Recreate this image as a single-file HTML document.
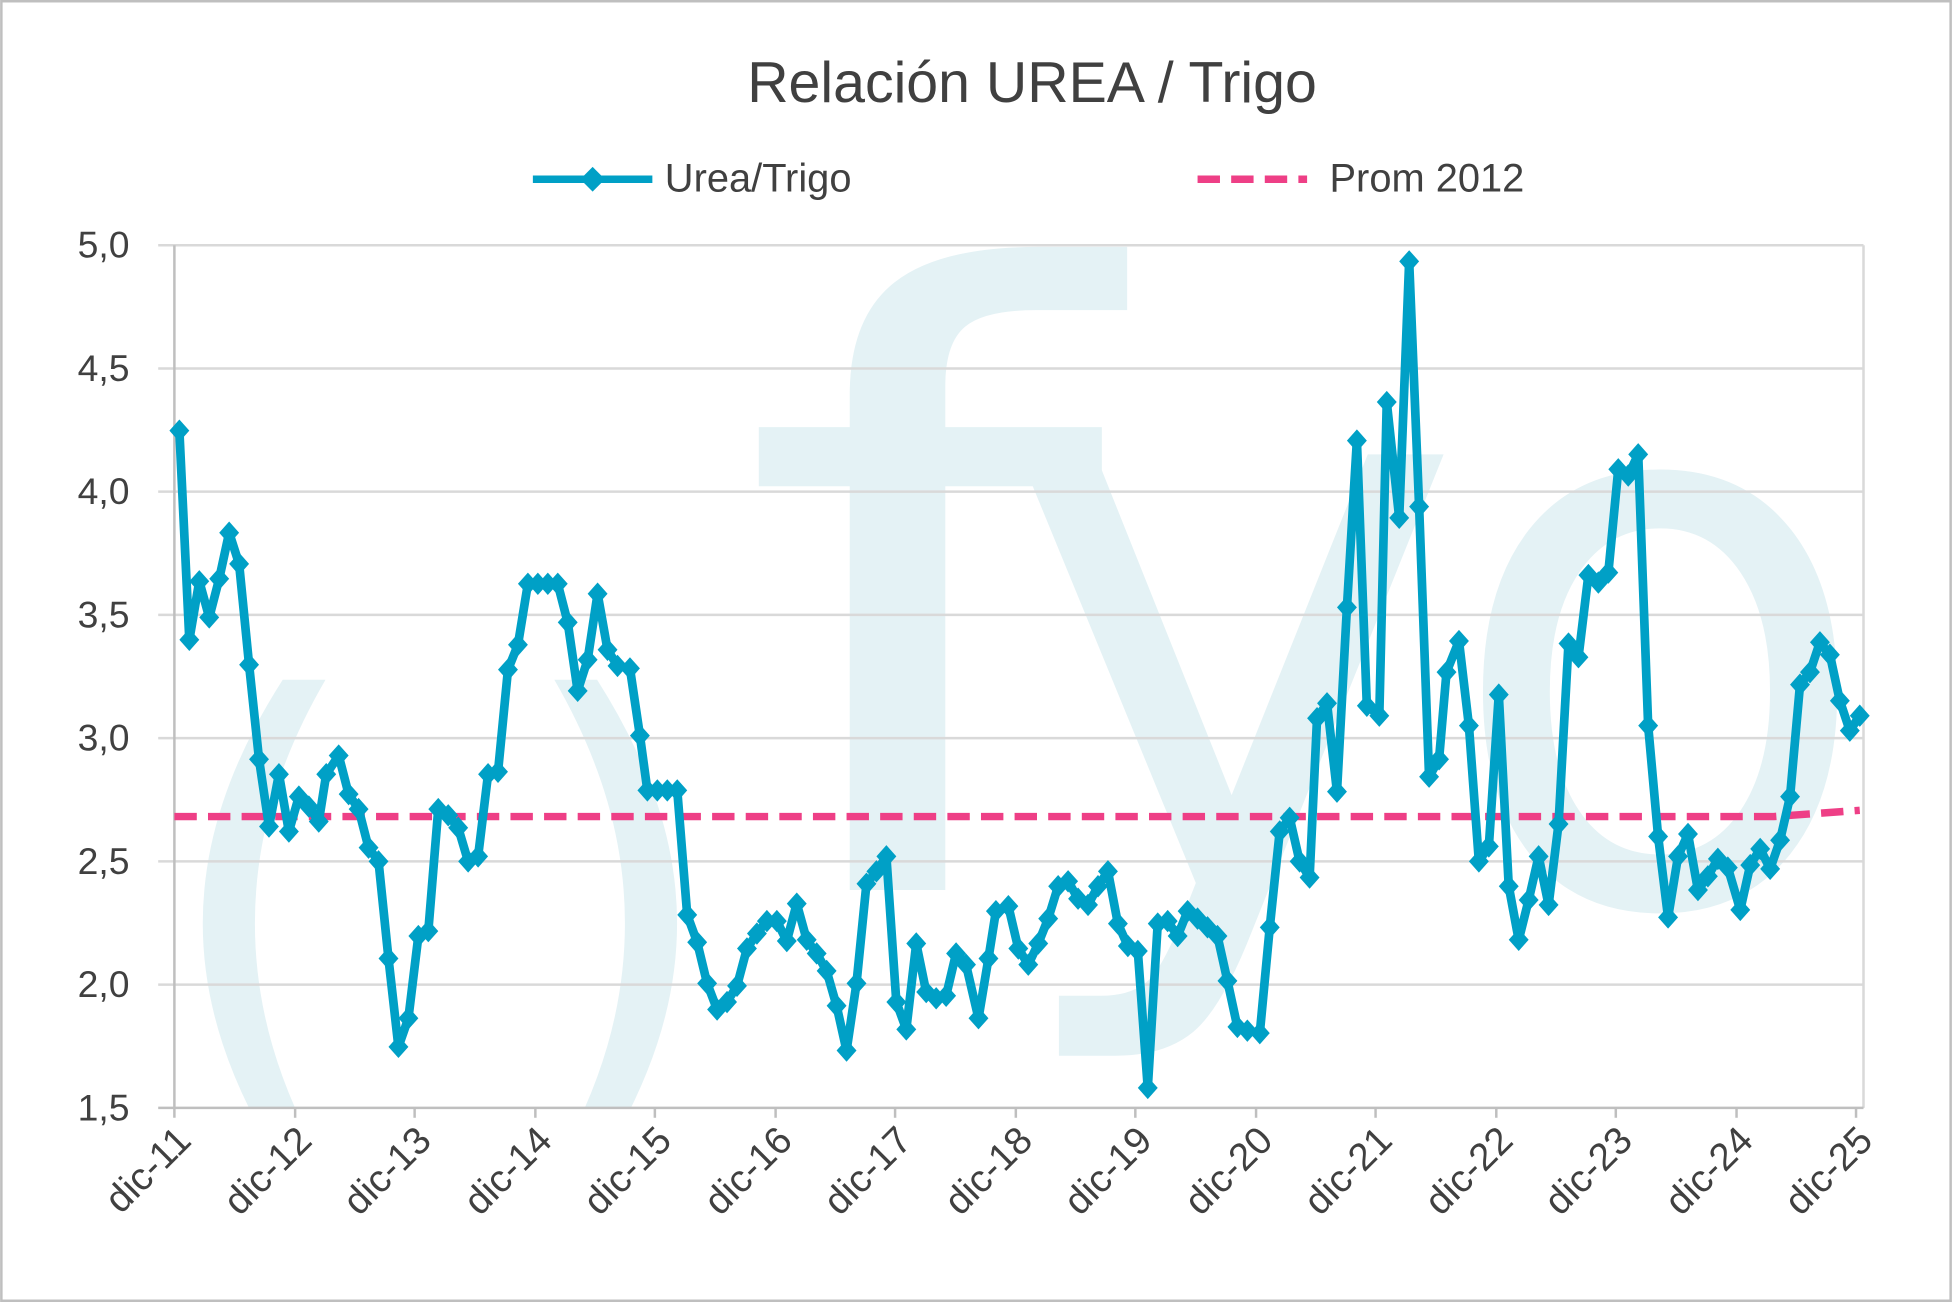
<!DOCTYPE html>
<html><head><meta charset="utf-8"><style>
html,body{margin:0;padding:0;background:#fff;}
svg{display:block;}
</style></head><body>
<svg width="1952" height="1302" viewBox="0 0 1568 1046" xmlns="http://www.w3.org/2000/svg" font-family="'Liberation Sans', 'DejaVu Sans', sans-serif">
<defs><clipPath id="c"><rect x="140" y="150" width="1357" height="740"/></clipPath></defs>
<rect x="1" y="1" width="1566" height="1044" fill="#fff" stroke="#bfbfbf" stroke-width="2"/>
<g fill="#e4f2f5" clip-path="url(#c)" font-family="'DejaVu Sans', sans-serif">
<text x="125" y="880" font-size="440">(</text>
<text x="410" y="880" font-size="440">)</text>
<text transform="translate(590,715) scale(1.25,1)" font-size="680">f</text>
<text x="800" y="715" font-size="640">y</text>
<text transform="translate(1160,725) scale(1.05,1.15)" font-size="540">o</text>
</g>
<text x="829" y="82" font-size="46" fill="#404040" text-anchor="middle">Relación UREA / Trigo</text>
<line x1="428" y1="144" x2="524" y2="144" stroke="#00a0c6" stroke-width="6"/>
<rect x="469" y="137" width="14" height="14" fill="#00a0c6" transform="rotate(45 476 144)"/>
<text x="534" y="154" font-size="32" fill="#404040">Urea/Trigo</text>
<line x1="962" y1="144" x2="1050" y2="144" stroke="#ee3f86" stroke-width="6" stroke-dasharray="18,9"/>
<text x="1068" y="154" font-size="32" fill="#404040">Prom 2012</text>
<g stroke="#d9d9d9" stroke-width="2">
<line x1="127" y1="197" x2="1497" y2="197"/><line x1="127" y1="296" x2="1497" y2="296"/>
<line x1="127" y1="395" x2="1497" y2="395"/><line x1="127" y1="494" x2="1497" y2="494"/>
<line x1="127" y1="593" x2="1497" y2="593"/><line x1="127" y1="692" x2="1497" y2="692"/>
<line x1="127" y1="791" x2="1497" y2="791"/>
<line x1="1497" y1="197" x2="1497" y2="890"/>
</g>
<g stroke="#bfbfbf" stroke-width="2">
<line x1="140" y1="197" x2="140" y2="898"/>
<line x1="127" y1="890" x2="1497" y2="890"/>
<line x1="237" y1="890" x2="237" y2="898"/><line x1="333" y1="890" x2="333" y2="898"/>
<line x1="430" y1="890" x2="430" y2="898"/><line x1="526" y1="890" x2="526" y2="898"/>
<line x1="623" y1="890" x2="623" y2="898"/><line x1="719" y1="890" x2="719" y2="898"/>
<line x1="816" y1="890" x2="816" y2="898"/><line x1="912" y1="890" x2="912" y2="898"/>
<line x1="1009" y1="890" x2="1009" y2="898"/><line x1="1105" y1="890" x2="1105" y2="898"/>
<line x1="1202" y1="890" x2="1202" y2="898"/><line x1="1298" y1="890" x2="1298" y2="898"/>
<line x1="1395" y1="890" x2="1395" y2="898"/><line x1="1491" y1="890" x2="1491" y2="898"/>
</g>
<g font-size="30" fill="#404040" text-anchor="end">
<text x="104" y="207">5,0</text><text x="104" y="306">4,5</text><text x="104" y="405">4,0</text>
<text x="104" y="504">3,5</text><text x="104" y="603">3,0</text><text x="104" y="702">2,5</text>
<text x="104" y="801">2,0</text><text x="104" y="900">1,5</text>
</g>
<g font-size="31" fill="#404040" text-anchor="end">
<text transform="translate(155,918) rotate(-45)">dic-11</text>
<text transform="translate(252,918) rotate(-45)">dic-12</text>
<text transform="translate(348,918) rotate(-45)">dic-13</text>
<text transform="translate(445,918) rotate(-45)">dic-14</text>
<text transform="translate(541,918) rotate(-45)">dic-15</text>
<text transform="translate(638,918) rotate(-45)">dic-16</text>
<text transform="translate(734,918) rotate(-45)">dic-17</text>
<text transform="translate(831,918) rotate(-45)">dic-18</text>
<text transform="translate(927,918) rotate(-45)">dic-19</text>
<text transform="translate(1024,918) rotate(-45)">dic-20</text>
<text transform="translate(1120,918) rotate(-45)">dic-21</text>
<text transform="translate(1217,918) rotate(-45)">dic-22</text>
<text transform="translate(1313,918) rotate(-45)">dic-23</text>
<text transform="translate(1410,918) rotate(-45)">dic-24</text>
<text transform="translate(1506,918) rotate(-45)">dic-25</text>
</g>
<polyline points="140,656 1425,656 1494,651" fill="none" stroke="#ee3f86" stroke-width="6" stroke-dasharray="18,9"/>
<polyline id="s" fill="none" stroke="#00a0c6" stroke-width="7" stroke-linejoin="round" points="144,346 152,514 160,467 168,496 176,465 184,428 192,453 200,534 208,610 216,664 224,622 232,668 240,640 248,648 256,660 262,622 272,607 280,638 288,650 296,681 304,692 312,770 320,841 328,818 336,752 344,748 352,650 360,655 368,665 376,692 384,688 392,622 400,620 408,538 416,518 424,469 432,469 440,469 448,469 456,500 464,555 472,530 480,477 488,522 496,535 506,537 514,591 520,635 528,635 536,635 544,635 552,735 560,757 568,790 576,811 584,805 592,792 600,762 608,750 616,740 624,740 632,756 640,726 648,755 656,766 664,780 672,808 680,844 688,790 696,710 704,700 712,688 720,805 728,827 736,758 744,797 752,802 760,800 768,766 776,775 786,818 794,770 800,732 810,728 818,762 826,775 834,758 842,738 850,712 858,708 866,722 874,727 882,712 890,700 898,742 906,760 914,764 922,874 930,742 938,740 946,752 954,732 962,738 970,745 978,752 986,788 994,825 1002,828 1012,830 1020,745 1028,668 1036,657 1044,692 1052,705 1058,577 1066,565 1074,636 1082,488 1090,354 1098,567 1108,575 1114,323 1124,416 1132,210 1140,407 1148,624 1156,610 1162,540 1172,515 1180,583 1188,692 1196,680 1204,558 1212,712 1220,755 1228,723 1236,688 1244,727 1252,662 1260,517 1268,528 1276,462 1284,468 1292,460 1300,377 1308,382 1316,365 1324,583 1332,672 1340,737 1348,688 1356,670 1364,715 1372,704 1380,690 1388,697 1398,731 1406,695 1414,682 1422,698 1430,675 1438,640 1446,550 1454,540 1462,516 1470,526 1478,563 1486,587 1494,575"/>
<g id="m" fill="#00a0c6"></g>
<script>
var pts=document.getElementById('s').getAttribute('points').trim().split(/\s+/);
var g=document.getElementById('m'),ns='http://www.w3.org/2000/svg';
pts.forEach(function(p){var c=p.split(',');var x=+c[0],y=+c[1];
var r=document.createElementNS(ns,'path');
r.setAttribute('d','M'+x+' '+(y-9)+'L'+(x+8)+' '+y+'L'+x+' '+(y+9)+'L'+(x-8)+' '+y+'Z');
g.appendChild(r);});
</script>
</svg>
</body></html>
